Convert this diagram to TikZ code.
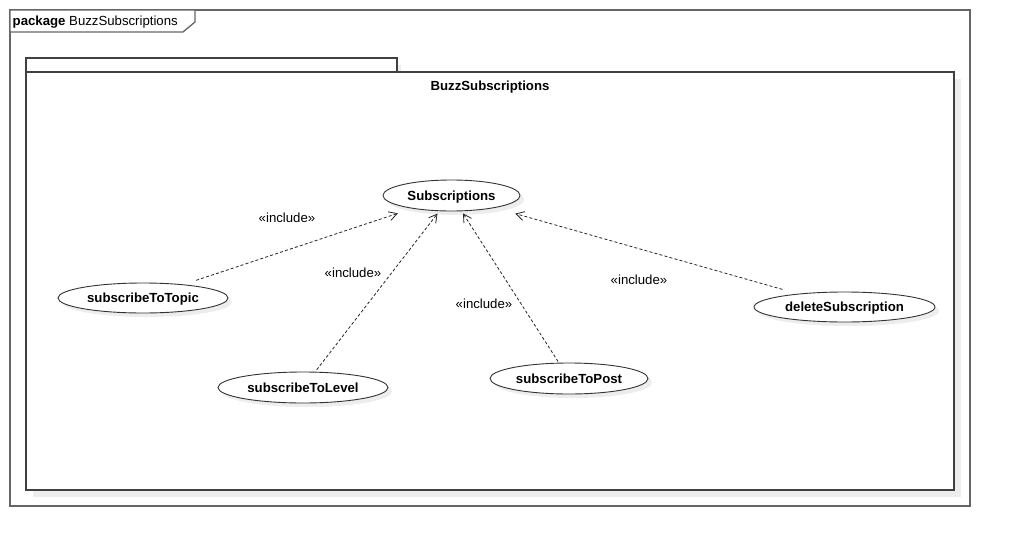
\documentclass[tikz,border=0pt]{standalone}
\usepackage{fontspec}
\setmainfont{Liberation Sans}
\usetikzlibrary{shapes.geometric,arrows.meta}
\begin{document}
\begin{tikzpicture}[x=1pt,y=-1pt,
  frame/.style={draw=black!60,line width=1.3pt},
  pkg/.style={draw=black!75,line width=1.3pt,fill=white},
  shade/.style={fill=black!7,draw=none},
  uc/.style={ellipse,draw=black!80,line width=0.9pt,fill=white,inner sep=0pt,text depth=0pt,
    font=\fontsize{13.2}{15}\selectfont\bfseries},
  dep/.style={draw=black!85,line width=0.8pt,dash pattern=on 3pt off 2.2pt,
    -{Straight Barb[length=8pt,width=9pt,line width=0.8pt]}},
  lbl/.style={inner sep=0pt,font=\fontsize{13.2}{15}\selectfont}
]
\useasboundingbox (0,0) rectangle (1010,546);
% outer frame
\draw[frame] (10,10) rectangle (970,506);
\draw[frame,fill=white] (10,10) -- (195,10) -- (195,22) -- (183,32) -- (10,32) -- cycle;
\node[lbl,anchor=west] (hdr) at (12.5,22) {\textbf{package} BuzzSubscriptions};
% inner package shadow
\fill[shade] (33,79) rectangle (961,497);
\fill[shade] (33,65) rectangle (401,79);
% inner package
\draw[pkg] (26,58) rectangle (397,72);
\draw[pkg] (26,72) rectangle (954,490);
\node[lbl,font=\fontsize{13.2}{15}\selectfont\bfseries] (title) at (490,87) {BuzzSubscriptions};
% use case shadows
\fill[shade] (455.5,199.5) ellipse (68.5 and 15.5);
\fill[shade] (147,302) ellipse (85 and 15);
\fill[shade] (307,391.5) ellipse (85 and 15.5);
\fill[shade] (573,382.5) ellipse (79 and 15.5);
\fill[shade] (848.5,311) ellipse (90.5 and 15);
% use cases
\node[uc,minimum width=137pt,minimum height=31pt] (subs) at (451.5,195.5) {Subscriptions};
\node[uc,minimum width=170pt,minimum height=30pt] (topic) at (143,298) {subscribeToTopic};
\node[uc,minimum width=170pt,minimum height=31pt] (level) at (303,387.5) {subscribeToLevel};
\node[uc,minimum width=158pt,minimum height=31pt] (post) at (569,378.5) {subscribeToPost};
\node[uc,minimum width=181pt,minimum height=30pt] (del) at (844.5,307) {deleteSubscription};
% dependencies
\draw[dep,shorten <=13pt,shorten >=15pt] (topic) -- (subs);
\draw[dep,shorten <=2.4pt,shorten >=3pt] (level) -- (subs);
\draw[dep,shorten <=1.4pt,shorten >=2.5pt] (post) -- (subs);
\draw[dep,shorten <=16pt,shorten >=21pt] (del) -- (subs);
% labels
\node[lbl] (l1) at (287,218) {«include»};
\node[lbl] (l2) at (353,273) {«include»};
\node[lbl] (l3) at (484,304) {«include»};
\node[lbl] (l4) at (639,280) {«include»};
\end{tikzpicture}
\end{document}
